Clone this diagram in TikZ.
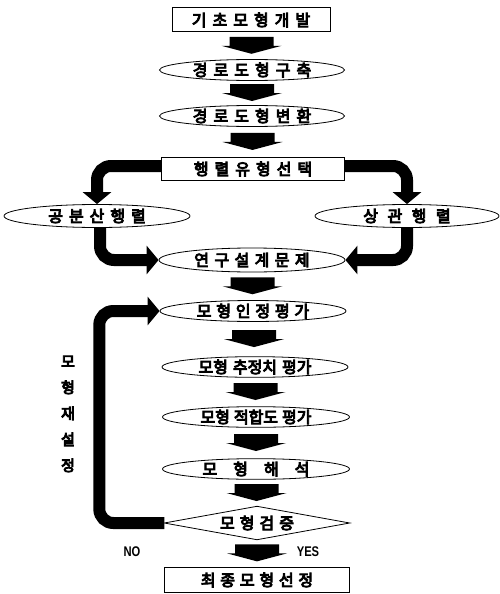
\documentclass[tikz,border=0pt]{standalone}
\usepackage{fontspec}
\newfontfamily\kr{Noto Sans CJK KR}
\newfontfamily\lat[FakeStretch=0.8]{Liberation Sans}
\usetikzlibrary{shapes.geometric,arrows.meta,calc}
\newcommand\heavy{\special{pdf:literal direct 2 Tr 0.9 w}}
\newcommand\kfont{\kr\fontsize{16}{18}\selectfont\spaceskip=6pt\relax\heavy}
\newcommand\kvfont{\kr\fontsize{15}{26}\selectfont\heavy}
\newcommand\sk[1]{\spaceskip=#1\relax}
\begin{document}
\begin{tikzpicture}[x=1pt,y=-1pt,
  kt/.style={font=\kfont, inner sep=0pt},
  boxn/.style={kt, draw, line width=1pt, rectangle, minimum width=#1, minimum height=24pt},
  elln/.style={kt, draw, line width=0.8pt, ellipse, minimum width=#1, minimum height=21pt},
  diam/.style={kt, rectangle, minimum width=185pt, minimum height=33pt},
  thickconn/.style={line width=12pt, rounded corners=14pt, -{Triangle[width=28pt,length=12pt]}},
  barrow/.pic={\fill (-22,-9) -- (22,-9) -- (22,0) -- (30,0) -- (0,8) -- (-30,0) -- (-22,0) -- cycle;},
  lbl/.style={font=\lat\bfseries\fontsize{14}{15}\selectfont, inner sep=0pt}
]
\useasboundingbox (0,0) rectangle (500,594);

\node[boxn=158pt] (n1) at (251,20) {기 초 모 형 개 발};
\node[elln=185pt] (n2) at (252,70) {경 로 도 형 구 축};
\node[elln=185pt] (n3) at (252,116) {경 로 도 형 변 환};
\node[boxn=183pt, minimum height=23pt] (n4) at (253,169) {행 렬 유 형 선 택};
\node[elln=186pt, minimum height=23pt] (n5) at (97,216) {공 분 산 행 렬};
\node[elln=184pt, minimum height=23pt] (n6) at (407,216) {\sk{9.5pt}상 관 행 렬};
\node[elln=186pt, minimum height=24pt] (n7) at (252,260) {\sk{5.4pt}연 구 설 계 문 제};
\node[elln=186pt] (n8) at (253,311) {\sk{4.8pt}모 형 인 정 평 가};
\node[elln=186pt, minimum height=20pt] (n9) at (255,367) {\sk{5pt}모형 추정치 평가};
\node[elln=187pt, minimum height=20pt] (n10) at (256,417) {\sk{4pt}모형 적합도 평가};
\node[elln=187pt, minimum height=19pt] (n11) at (256,469) {\sk{16pt}모 형 해 석};
\node[diam] (n12) at (257,523) {\sk{5pt}모 형 검 증};
\draw[line width=0.8pt] (n12.west) -- (n12.north) -- (n12.east) -- (n12.south) -- cycle;
\node[boxn=185pt, minimum height=25pt] (n13) at (257,580) {\sk{4.8pt}최 종 모 형 선 정};

% block arrows
\pic at ($(n1.south)!0.5!(n2.north)$) {barrow};
\pic at ($(n2.south)!0.5!(n3.north)$) {barrow};
\pic at ($(n3.south)!0.5!(n4.north)$) {barrow};
\pic at ($(n7.south)!0.5!(n8.north)$) {barrow};
\pic at ($(n8.south)!0.5!(n9.north)$) {barrow};
\pic at ($(n9.south)!0.5!(n10.north)$) {barrow};
\pic at ($(n10.south)!0.5!(n11.north)$) {barrow};
\pic at ($(n11.south)!0.5!(n12.north)$) {barrow};
\pic at ($(n12.south)!0.5!(n13.north)$) {barrow};

% thick connectors
\draw[thickconn] ([yshift=3pt]n4.west) -| (n5.north);
\draw[thickconn] ([yshift=3pt]n4.east) -| (n6.north);
\draw[thickconn] ([xshift=3pt]n5.south) |- (n7.west);
\draw[thickconn] (n6.south) |- (n7.east);
\coordinate (fb) at ($(n12.west)+(-65,0)$);
\draw[thickconn] (n12.west) -- (fb) |- (n8.west);

% labels
\node[inner sep=0pt, align=center, font=\kvfont] (re) at (68,414) {모\\형\\재\\설\\정};
\node[lbl] (no) at (132,552) {NO};
\node[lbl] (yes) at (308,552) {YES};
\end{tikzpicture}
\end{document}
